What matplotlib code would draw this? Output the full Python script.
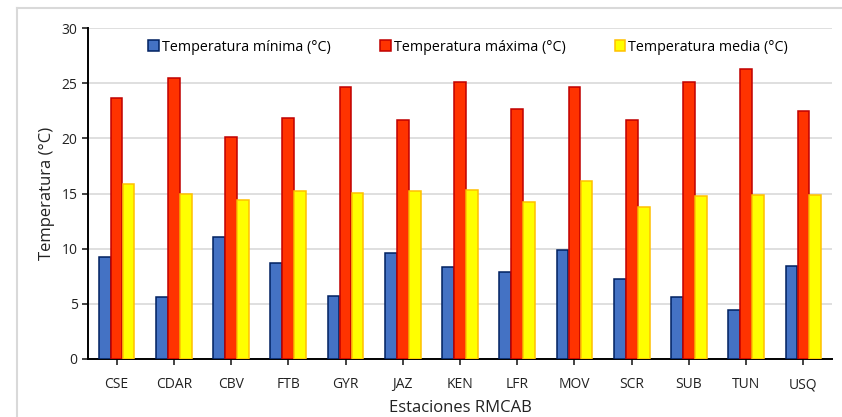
import numpy as np
import matplotlib.pyplot as plt
from matplotlib.lines import Line2D

plt.rcParams['font.family'] = ['Open Sans', 'DejaVu Sans']

# datos
estaciones = ['CSE', 'CDAR', 'CBV', 'FTB', 'GYR', 'JAZ', 'KEN', 'LFR', 'MOV', 'SCR', 'SUB', 'TUN', 'USQ']
t_min = [9.2, 5.6, 11.05, 8.7, 5.7, 9.6, 8.3, 7.9, 9.9, 7.25, 5.6, 4.4, 8.4]
t_max = [23.7, 25.45, 20.15, 21.85, 24.65, 21.65, 25.15, 22.7, 24.65, 21.65, 25.15, 26.3, 22.5]
t_media = [15.85, 14.95, 14.4, 15.25, 15.05, 15.25, 15.3, 14.2, 16.15, 13.8, 14.75, 14.85, 14.85]

fig = plt.figure(figsize=(8.42, 4.17), dpi=100)
ax = fig.add_axes([88/842, 1-359/417, 744/842, 331/417])

x = np.arange(len(estaciones))
w = 0.205
ax.bar(x - w*1.02, t_min, w, color='#4472C4', edgecolor='#002060', linewidth=1.1,
       label='Temperatura mínima (°C)', zorder=3)
ax.bar(x, t_max, w, color='#FF3300', edgecolor='#C00000', linewidth=1.1,
       label='Temperatura máxima (°C)', zorder=3)
ax.bar(x + w*1.02, t_media, w, color='#FFFF00', edgecolor='#FFC000', linewidth=1.1,
       label='Temperatura media (°C)', zorder=3)

ax.set_xlim(-0.5, 12.5)
ax.set_ylim(0, 30)
ax.set_yticks(range(0, 31, 5))
ax.set_xticks(x)
ax.set_xticklabels(estaciones)
ax.tick_params(axis='both', labelsize=10, colors='#222222', length=4, width=1.2)
ax.tick_params(axis='x', pad=9)
ax.yaxis.grid(True, color='#D9D9D9', linewidth=1.2, zorder=0)
ax.set_axisbelow(True)

for s in ['top', 'right']:
    ax.spines[s].set_visible(False)
ax.spines['left'].set_linewidth(1.4)
ax.spines['bottom'].set_linewidth(1.4)

ax.set_ylabel('Temperatura (°C)', fontsize=12, labelpad=5, color='#222222')
ax.set_xlabel('Estaciones RMCAB', fontsize=12, labelpad=6, color='#222222')

ax.legend(loc='upper center', bbox_to_anchor=(0.511, 1.003), ncol=3, frameon=False,
          fontsize=10.3, handlelength=0.75, handleheight=0.8, handletextpad=0.2,
          columnspacing=3.45)

# borde del área del gráfico
fig.add_artist(Line2D([17/842, 17/842], [0, 1-8/417], transform=fig.transFigure,
                      color='#D9D9D9', linewidth=1.5))
fig.add_artist(Line2D([17/842, 1], [1-8/417, 1-8/417], transform=fig.transFigure,
                      color='#D9D9D9', linewidth=1.5))

plt.savefig('out.png', dpi=100)
